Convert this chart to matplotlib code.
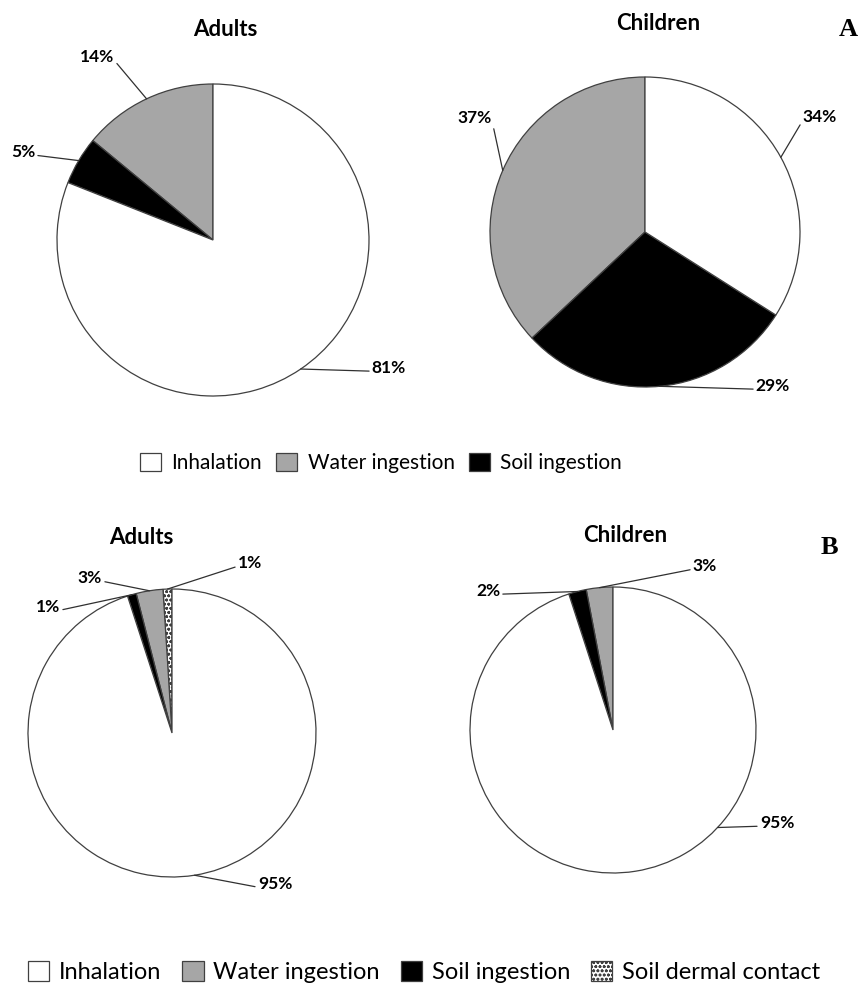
import numpy as np
import matplotlib
matplotlib.use('Agg')
import matplotlib.pyplot as plt

plt.rcParams['font.family'] = ['Lato', 'DejaVu Sans']
plt.rcParams['hatch.linewidth'] = 0.8

W, H = 859, 986

# dane - kolejnosc przeciwnie do ruchu wskazowek zegara od gory
kat_A = ['Water ingestion', 'Soil ingestion', 'Inhalation']
adults_A = [14, 5, 81]
children_A = [37, 29, 34]

kat_B = ['Soil dermal contact', 'Water ingestion', 'Soil ingestion', 'Inhalation']
adults_B = [1, 3, 1, 95]
children_B = [3, 2, 95]
kat_B_children = ['Water ingestion', 'Soil ingestion', 'Inhalation']

kolory = {'Inhalation': 'white', 'Water ingestion': '#a6a6a6',
          'Soil ingestion': 'black', 'Soil dermal contact': 'white'}
legenda_A = ['Inhalation', 'Water ingestion', 'Soil ingestion']
legenda_B = ['Inhalation', 'Water ingestion', 'Soil ingestion', 'Soil dermal contact']


def px(x, y):
    # piksele od gory -> ulamek figury
    return (x / W, 1 - y / H)


fig = plt.figure(figsize=(W / 100, H / 100), dpi=100)


def rysuj_pie(cx, cy, r, wartosci, kategorie, tytul, tytul_xy, etykiety, katy=None):
    left, bottom = px(cx - r, cy + r)
    ax = fig.add_axes([left, bottom, 2 * r / W, 2 * r / H])
    wedges, _ = ax.pie(wartosci, startangle=90, counterclock=True,
                       colors=[kolory[k] for k in kategorie],
                       wedgeprops=dict(edgecolor='#404040', linewidth=0.9))
    for w, k in zip(wedges, kategorie):
        w.set_label(k)
        if k == 'Soil dermal contact':
            w.set_hatch('oooo')
    ax.set_xlim(-1, 1)
    ax.set_ylim(-1, 1)
    ax.set_aspect('auto')
    ax.axis('off')
    fig.text(*px(*tytul_xy), tytul, ha='center', va='center',
             fontsize=16, fontweight='bold')
    for i, (w, v, (tx, ty)) in enumerate(zip(wedges, wartosci, etykiety)):
        theta = (w.theta1 + w.theta2) / 2
        if katy is not None and katy[i] is not None:
            theta = katy[i]
        t = np.deg2rad(theta)
        xy = (np.cos(t), np.sin(t))
        po_lewej = tx < cx
        ax.annotate(f'{v}%', xy=xy, xytext=px(tx, ty), textcoords='figure fraction',
                    ha='center', va='center', fontsize=12.5, fontweight='bold',
                    arrowprops=dict(arrowstyle='-', color='#303030', lw=0.9,
                                    shrinkA=0, shrinkB=0,
                                    relpos=(1.0, 0.3) if po_lewej else (0.0, 0.3)),
                    annotation_clip=False)
    return wedges


w_A = rysuj_pie(213, 240, 156, adults_A, kat_A, 'Adults', (225, 30),
                [(97, 57), (23, 152), (389, 368)])
rysuj_pie(645, 232, 155, children_A, kat_A, 'Children', (658, 23),
          [(475, 118), (773, 386), (820, 117)])
w_B = rysuj_pie(172, 733, 144, adults_B, kat_B, 'Adults', (141, 537),
                [(250, 563), (90, 578), (48, 607), (275, 884)])
rysuj_pie(613, 730, 143, children_B, kat_B_children, 'Children', (625, 535),
          [(705, 566), (488, 591), (777, 823)], katy=[None, None, 317])

fig.text(*px(848, 30), 'A', ha='center', va='center', fontsize=19,
         fontweight='bold', family=['Liberation Serif'])
fig.text(*px(829, 548), 'B', ha='center', va='center', fontsize=19,
         fontweight='bold', family=['Liberation Serif'])

uchwyty_A = {w.get_label(): w for w in w_A}
fig.legend([uchwyty_A[k] for k in legenda_A], legenda_A, loc='center',
           bbox_to_anchor=px(381, 463), ncol=3, frameon=False, fontsize=15,
           handlelength=1.0, handleheight=1.0, columnspacing=0.7, handletextpad=0.5)

uchwyty_B = {w.get_label(): w for w in w_B}
fig.legend([uchwyty_B[k] for k in legenda_B], legenda_B, loc='center',
           bbox_to_anchor=px(424, 972), ncol=4, frameon=False, fontsize=17,
           handlelength=0.9, handleheight=0.9, columnspacing=0.9, handletextpad=0.4)

fig.savefig('out.png', dpi=100)
